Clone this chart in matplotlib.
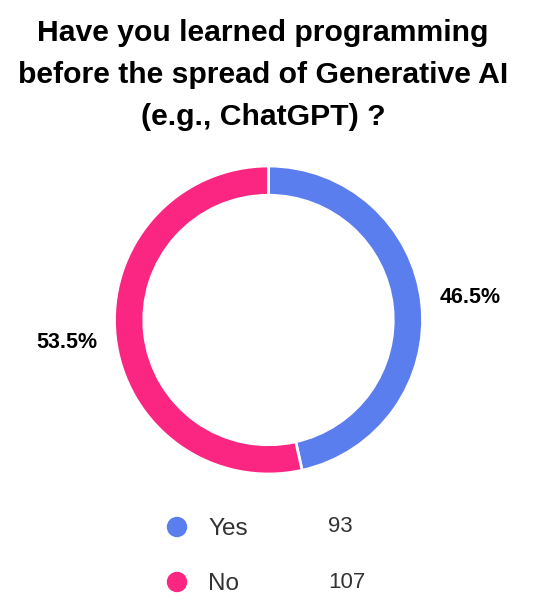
import matplotlib
matplotlib.use("Agg")
import matplotlib.pyplot as plt
from matplotlib.patches import Circle

plt.rcParams['font.family'] = ['Liberation Sans', 'DejaVu Sans']

title = "Have you learned programming\nbefore the spread of Generative AI\n(e.g., ChatGPT) ?"
categories = ["Yes", "No"]
counts = [93, 107]
colors = ["#5B7EEF", "#FB2682"]

W, H = 550, 614
fig = plt.figure(figsize=(W / 100, H / 100), dpi=100)

# title
fig.text(263 / W, 1 - 75 / H, title, ha='center', va='center', fontsize=21.7,
         fontweight='bold', color='black', linespacing=1.63)

# donut
cx, cy, r = 268.5, 320, 154
ax = fig.add_axes([(cx - r) / W, (H - cy - r) / H, 2 * r / W, 2 * r / H])
total = sum(counts)
labels = [f"{c / total * 100:.1f}%" for c in counts]
wedges, texts = ax.pie(counts, colors=colors, startangle=90, counterclock=False,
                       radius=1, labels=labels, labeldistance=1.32,
                       wedgeprops=dict(width=0.19, edgecolor='white', linewidth=2),
                       textprops=dict(fontsize=15.5, fontweight='bold', color='black'))
for t in texts:
    t.set_ha('center')
    t.set_va('center')
ax.set_xlim(-1, 1)
ax.set_ylim(-1, 1)
ax.set_aspect('equal')
ax.axis('off')

# legend
lax = fig.add_axes([0, 0, 1, 1])
lax.set_xlim(0, W)
lax.set_ylim(H, 0)
lax.axis('off')
ys = [527, 582]
for cat, cnt, col, y in zip(categories, counts, colors, ys):
    lax.add_patch(Circle((177, y), 9.5, color=col))
    lax.text(208, y + 2, cat, ha='left', va='center', fontsize=17.5, color='#333333')
    lax.text(328, y, str(cnt), ha='left', va='center', fontsize=16, color='#333333')

fig.savefig("out.png", dpi=100, facecolor='white')
